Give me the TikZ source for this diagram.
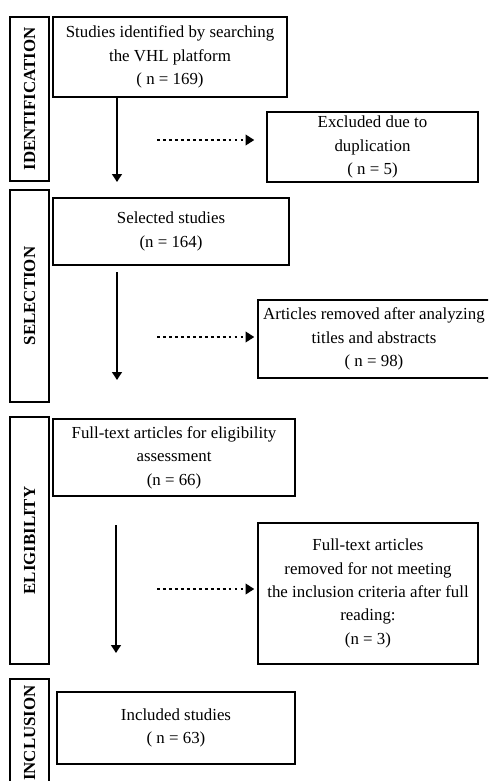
\documentclass[tikz,border=0pt]{standalone}
\usepackage{fontspec}
\setmainfont{Liberation Serif}
\usetikzlibrary{positioning,arrows.meta}

\begin{document}
\begin{tikzpicture}[x=0.02cm,y=-0.02cm,
    box/.style={draw, line width=0.8pt, inner sep=0pt, align=center,
      font=\fontsize{9.6}{13.3}\selectfont},
    phase/.style={box, rotate=90, minimum height=0.78cm,
      font=\fontsize{9.6}{13.3}\selectfont\bfseries},
    flow/.style={line width=1.1pt, -{Triangle[width=5.5pt,length=4.5pt]}},
    skip/.style={line width=1.5pt, dash pattern=on 1.6pt off 1.8pt,
      -{Triangle[width=6pt,length=5pt]}}]
      \clip (0,0) rectangle (488,781);
      % phases on the left
      \node[phase, minimum width=3.28cm] (ident) at (29.5,99) {IDENTIFICATION};
      \node[phase, minimum width=4.24cm] (selec) at (29.5,296) {SELECTION};
      \node[phase, minimum width=4.94cm] (elig) at (29.5,540.5) {ELIGIBILITY};
      \node[phase, minimum width=2.16cm] (inclu) at (29.5,733) {INCLUSION};
      % main boxes
      \node[box, minimum width=4.68cm, minimum height=1.6cm] (found) at (170,57)
        {Studies identified by searching\\the VHL platform\\( n = 169)};
      \node[box, minimum width=4.72cm, minimum height=1.34cm] (selected) at (171,231.5)
        {Selected studies\\(n = 164)};
      \node[box, minimum width=4.84cm, minimum height=1.54cm] (full) at (174,457.5)
        {Full-text articles for eligibility\\assessment\\(n = 66)};
      \node[box, minimum width=4.76cm, minimum height=1.44cm] (incl) at (176,728)
        {Included studies\\( n = 63)};
      % excluded boxes
      \node[box, minimum width=4.22cm, minimum height=1.4cm] (dupl) at (372.5,147)
        {Excluded due to\\duplication\\( n = 5)};
      \node[box, minimum width=4.64cm, minimum height=1.56cm] (titles) at (374,339)
        {Articles removed after analyzing\\titles and abstracts\\( n = 98)};
      \node[box, minimum width=4.4cm, minimum height=2.82cm] (crit) at (368,593.5)
        {Full-text articles\\removed for not meeting\\the inclusion criteria after full\\reading:\\(n = 3)};
      % arrow ends
      \coordinate (e1) at (117,182);
      \coordinate (s2) at (117,272);
      \coordinate (e2) at (117,380);
      \coordinate (s3) at (116,525);
      \coordinate (e3) at (116,653);
      \coordinate (d1) at (157,140);
      \coordinate (d2) at (157,337);
      \coordinate (d3) at (157,589);
      \draw[flow] (found.south -| e1) -- (e1);
      \draw[flow] (s2) -- (e2);
      \draw[flow] (s3) -- (e3);
      \draw[skip] (d1) -- ([xshift=-12*0.02cm]dupl.west |- d1);
      \draw[skip] (d2) -- ([xshift=-3*0.02cm]titles.west |- d2);
      \draw[skip] (d3) -- ([xshift=-3*0.02cm]crit.west |- d3);
    \end{tikzpicture}
\end{document}
